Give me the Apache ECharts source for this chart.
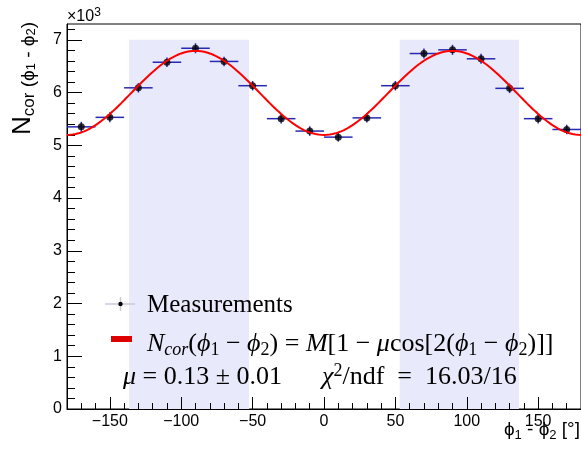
<!DOCTYPE html>
<html>
<head>
<meta charset="utf-8">
<script src="https://cdn.jsdelivr.net/npm/echarts@6/dist/echarts.min.js"></script>
<style>
html, body { margin: 0; padding: 0; background: #fff; }
#chart { width: 581px; height: 451px; }
</style>
</head>
<body>
<div id="chart"></div>
<script>
// 测量点: bin 中心 (度), 计数, 误差
const phiBins = [-170, -150, -130, -110, -90, -70, -50, -30, -10, 10, 30, 50, 70, 90, 110, 130, 150, 170]
const counts = [5350, 5530, 6090, 6575, 6840, 6590, 6130, 5505, 5270, 5155, 5520, 6130, 6740, 6810, 6640, 6080, 5505, 5300]
const countErr = [95, 95, 90, 90, 95, 90, 90, 90, 90, 85, 90, 90, 95, 95, 95, 90, 90, 90]
const binHalfWidth = 10
// 拟合参数 M[1 - mu cos(2x)]
const fitM = 5993
const fitMu = 0.133
// 阴影区间
const bands = [[-136.5, -52.5], [53, 136.5]]
const bandTop = 7000
// 刻度
const xTicks = [-150, -100, -50, 0, 50, 100, 150]
const xMinorTicks = [-170, -160, -150, -140, -130, -120, -110, -100, -90, -80, -70, -60, -50, -40, -30, -20, -10, 0,
  10, 20, 30, 40, 50, 60, 70, 80, 90, 100, 110, 120, 130, 140, 150, 160, 170]
const yTicks = [0, 1000, 2000, 3000, 4000, 5000, 6000, 7000]
const yMinorTicks = [200, 400, 600, 800, 1200, 1400, 1600, 1800, 2200, 2400, 2600, 2800, 3200, 3400, 3600, 3800,
  4200, 4400, 4600, 4800, 5200, 5400, 5600, 5800, 6200, 6400, 6600, 6800, 7200]

// 拟合曲线
const fitCurve = []
for (let x = -180; x <= 180; x += 1) {
  fitCurve.push([x, fitM * (1 - fitMu * Math.cos(2 * x * Math.PI / 180))])
}

const sans = 'Liberation Sans'
const serif = 'Liberation Serif'

const mathRich = {
  it: { fontFamily: serif, fontSize: 26, fontStyle: 'italic', lineHeight: 30 },
  sc: { fontFamily: serif, fontSize: 18, fontStyle: 'italic', lineHeight: 16, verticalAlign: 'bottom' },
  sn: { fontFamily: serif, fontSize: 18, lineHeight: 16, verticalAlign: 'bottom' },
  sup: { fontFamily: serif, fontSize: 18, lineHeight: 14, verticalAlign: 'top' }
}
const yTitleRich = {
  n: { fontFamily: sans, fontSize: 26, lineHeight: 30 },
  s: { fontFamily: sans, fontSize: 17, lineHeight: 11, verticalAlign: 'bottom' },
  m: { fontFamily: sans, fontSize: 19, lineHeight: 11, verticalAlign: 'bottom' },
  ms: { fontFamily: sans, fontSize: 13, lineHeight: 3, verticalAlign: 'bottom' }
}

const myChart = echarts.init(document.getElementById('chart'))
const minusFmt = (v) => String(v).replace('-', '\u2212')

const baseAxis = {
  type: 'value', z: 2,
  splitLine: { show: false }
}

const option = {
  animation: false,
  grid: { left: 67, right: -1, top: 24, bottom: 42, show: true, borderColor: '#000', borderWidth: 1 },
  xAxis: [
    {
      ...baseAxis, min: -180, max: 180, position: 'bottom',
      axisLine: { show: true, onZero: false, lineStyle: { color: '#000', width: 1 } },
      axisTick: { show: true, inside: true, length: 12, customValues: xTicks, lineStyle: { color: '#000' } },
      axisLabel: { customValues: xTicks, formatter: minusFmt, color: '#000', fontSize: 16, fontFamily: sans, margin: 5 }
    },
    {
      ...baseAxis, min: -180, max: 180, position: 'bottom',
      axisLine: { show: false, onZero: false },
      axisTick: { show: true, inside: true, length: 6, customValues: xMinorTicks, lineStyle: { color: '#000' } },
      axisLabel: { show: false }
    }
  ],
  yAxis: [
    {
      ...baseAxis, min: 0, max: 7300, position: 'left',
      axisLine: { show: true, onZero: false, lineStyle: { color: '#000', width: 1 } },
      axisTick: { show: true, inside: true, length: 15, customValues: yTicks, lineStyle: { color: '#000' } },
      axisLabel: { customValues: yTicks, formatter: (v) => String(v / 1000), color: '#000', fontSize: 16, fontFamily: sans, margin: 5 }
    },
    {
      ...baseAxis, min: 0, max: 7300, position: 'left',
      axisLine: { show: false, onZero: false },
      axisTick: { show: true, inside: true, length: 8, customValues: yMinorTicks, lineStyle: { color: '#000' } },
      axisLabel: { show: false }
    }
  ],
  series: [
    {
      // 阴影区间
      type: 'custom', z: 1, silent: true,
      data: bands.map((b) => [b[0], b[1]]),
      renderItem: (params, api) => {
        const p0 = api.coord([api.value(0), bandTop])
        const p1 = api.coord([api.value(1), 0])
        return { type: 'rect', shape: { x: p0[0], y: p0[1], width: p1[0] - p0[0], height: p1[1] - p0[1] }, style: { fill: '#e8e9fa' } }
      }
    },
    {
      // 误差棒
      type: 'custom', z: 3, silent: true,
      data: phiBins.map((x, i) => [x, counts[i], countErr[i]]),
      renderItem: (params, api) => {
        const x = api.value(0)
        const y = api.value(1)
        const e = api.value(2)
        const l = api.coord([x - binHalfWidth, y])
        const r = api.coord([x + binHalfWidth, y])
        const t = api.coord([x, y + e])
        const b = api.coord([x, y - e])
        const st = { stroke: '#2828b4', lineWidth: 1.5 }
        return {
          type: 'group',
          children: [
            { type: 'line', shape: { x1: l[0], y1: l[1], x2: r[0], y2: r[1] }, style: st },
            { type: 'line', shape: { x1: t[0], y1: t[1], x2: b[0], y2: b[1] }, style: st }
          ]
        }
      }
    },
    {
      type: 'scatter', z: 4, symbol: 'circle', symbolSize: 7,
      itemStyle: { color: '#000' },
      data: phiBins.map((x, i) => [x, counts[i]])
    },
    {
      type: 'line', z: 5, data: fitCurve, showSymbol: false, smooth: false,
      lineStyle: { color: '#ff0000', width: 2 }
    }
  ],
  graphic: [
    // y 轴标题
    {
      type: 'text', x: 23, y: 22, rotation: Math.PI / 2, z: 100,
      style: {
        text: '{n|N}{s|cor}{m| (ϕ}{ms|1}{m| - ϕ}{ms|2}{m|)}',
        align: 'right', verticalAlign: 'middle', fill: '#000', rich: yTitleRich
      }
    },
    {
      type: 'text', x: 67, y: 17, z: 100,
      style: { text: '×10{sup|3}', font: '16px "Liberation Sans"', fill: '#000', align: 'left', verticalAlign: 'middle', lineHeight: 20, rich: { sup: { fontFamily: sans, fontSize: 12, lineHeight: 12, verticalAlign: 'top' } } }
    },
    // x 轴标题
    {
      type: 'text', x: 580, y: 430, z: 100,
      style: {
        text: '{n|ϕ}{s|1}{n| - ϕ}{s|2}{n| [°]}',
        align: 'right', verticalAlign: 'middle', fill: '#000',
        rich: { n: { fontFamily: sans, fontSize: 19, lineHeight: 24 }, s: { fontFamily: sans, fontSize: 13, lineHeight: 12, verticalAlign: 'bottom' } }
      }
    },
    // 图例
    { type: 'line', z: 100, shape: { x1: 105, y1: 304, x2: 135, y2: 304 }, style: { stroke: '#c8c8dc', lineWidth: 1.5 } },
    { type: 'line', z: 100, shape: { x1: 120.5, y1: 297, x2: 120.5, y2: 311 }, style: { stroke: '#c8c8dc', lineWidth: 1.5 } },
    { type: 'circle', z: 101, shape: { cx: 120.5, cy: 304, r: 2.2 }, style: { fill: '#000' } },
    {
      type: 'text', x: 147, y: 305, z: 100,
      style: { text: 'Measurements', font: '25px "Liberation Serif"', fill: '#000', verticalAlign: 'middle' }
    },
    { type: 'rect', z: 100, shape: { x: 111, y: 336, width: 21, height: 6 }, style: { fill: '#dd0000' } },
    {
      type: 'text', x: 147, y: 344, z: 100,
      style: {
        text: '{it|N}{sc|cor}({it|ϕ}{sn|1} − {it|ϕ}{sn|2}) = {it|M}[1 − {it|μ}cos[2({it|ϕ}{sn|1} − {it|ϕ}{sn|2})]]',
        font: '26px "Liberation Serif"', lineHeight: 30, fill: '#000', verticalAlign: 'middle', rich: mathRich
      }
    },
    {
      type: 'text', x: 123, y: 377, z: 100,
      style: {
        text: '{it|μ} = 0.13 ± 0.01',
        font: '26px "Liberation Serif"', lineHeight: 30, fill: '#000', verticalAlign: 'middle', rich: mathRich
      }
    },
    {
      type: 'text', x: 322, y: 377, z: 100,
      style: {
        text: '{it|χ}{sup|2}/ndf  =  16.03/16',
        font: '26px "Liberation Serif"', lineHeight: 30, fill: '#000', verticalAlign: 'middle', rich: mathRich
      }
    }
  ]
}
myChart.setOption(option)
</script>
</body>
</html>
